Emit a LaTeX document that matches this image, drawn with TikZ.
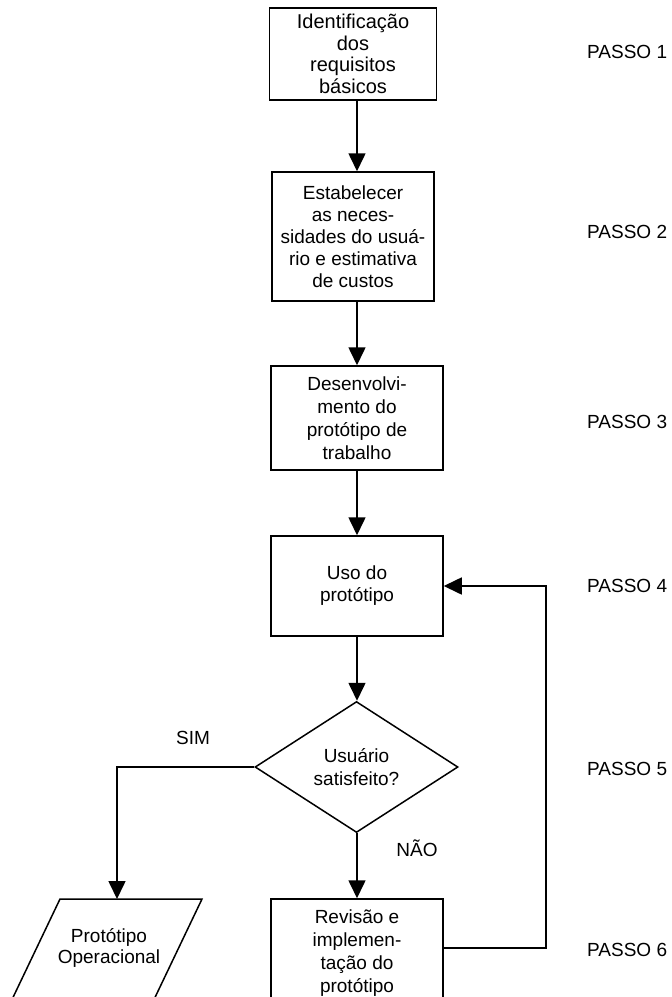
\documentclass[tikz,border=0pt]{standalone}
\usepackage{fontspec}
\setmainfont{Liberation Sans}
\usetikzlibrary{arrows.meta,shapes.geometric}
\begin{document}
\begin{tikzpicture}[x=1pt,y=-1pt,
  box/.style={draw, line width=1.5pt, rectangle, align=center, inner sep=0pt, font=\fontsize{19}{22}\selectfont},
  arr/.style={line width=1.6pt, -{Triangle[length=18pt,width=17pt]}},
  lbl/.style={font=\fontsize{19}{22}\selectfont, inner sep=0pt}]
\useasboundingbox (0,0) rectangle (672,997);
\clip (0,0) rectangle (672,997);
% boxes
\node[box, minimum width=167pt, minimum height=92pt, font=\fontsize{20}{21.5}\selectfont] (b1) at (353,54) {Identificação\\dos\\requisitos\\básicos};
\node[box, minimum width=162pt, minimum height=129pt] (b2) at (353,236.5) {Estabelecer\\as neces-\\sidades do usuá-\\rio e estimativa\\de custos};
\node[box, minimum width=172pt, minimum height=104pt, font=\fontsize{19}{23}\selectfont] (b3) at (357,418) {Desenvolvi-\\mento do\\protótipo de\\trabalho};
\node[box, minimum width=172pt, minimum height=100pt] (b4) at (357,586) {Uso do\\protótipo};
\node[diamond, draw, line width=1.5pt, minimum width=203pt, minimum height=131pt, inner sep=0pt, align=center, font=\fontsize{19}{23}\selectfont] (dia) at (356.5,767) {Usuário\\satisfeito?};
\node[box, minimum width=172pt, minimum height=108pt, font=\fontsize{19}{23}\selectfont] (rev) at (357,953) {Revisão e\\implemen-\\tação do\\protótipo};
% parallelogram
\draw[line width=1.5pt] (7,1010) -- (60,899) -- (202,899) -- (149,1010);
\node[lbl, align=center, font=\fontsize{19}{21}\selectfont] (op) at (109,947.5) {Protótipo\\Operacional};
\coordinate (optop) at (117,899);
% connectors
\draw[arr] (b1.south -| b4.north) -- (b2.north -| b4.north);
\draw[arr] (b2.south -| b4.north) -- (b3.north);
\draw[arr] (b3.south) -- (b4.north);
\draw[arr] (b4.south) -- (b4.south |- dia.north);
\draw[arr] (dia.west) -| (optop);
\draw[arr] (dia.south -| rev.north) -- (rev.north);
\coordinate (lb) at (546,948);
\coordinate (lt) at (546,586);
\draw[arr] (rev.east |- lb) -- (lb) -- (lt) -- (b4.east);
% labels
\node[lbl] (sim) at (193,738) {SIM};
\node[lbl] (nao) at (417,848) {NÃO};
\node[lbl, anchor=west] (p1) at (587,52) {PASSO 1};
\node[lbl, anchor=west] (p2) at (587,232) {PASSO 2};
\node[lbl, anchor=west] (p3) at (587,422) {PASSO 3};
\node[lbl, anchor=west] (p4) at (587,586) {PASSO 4};
\node[lbl, anchor=west] (p5) at (587,769) {PASSO 5};
\node[lbl, anchor=west] (p6) at (587,950) {PASSO 6};
\end{tikzpicture}
\end{document}
